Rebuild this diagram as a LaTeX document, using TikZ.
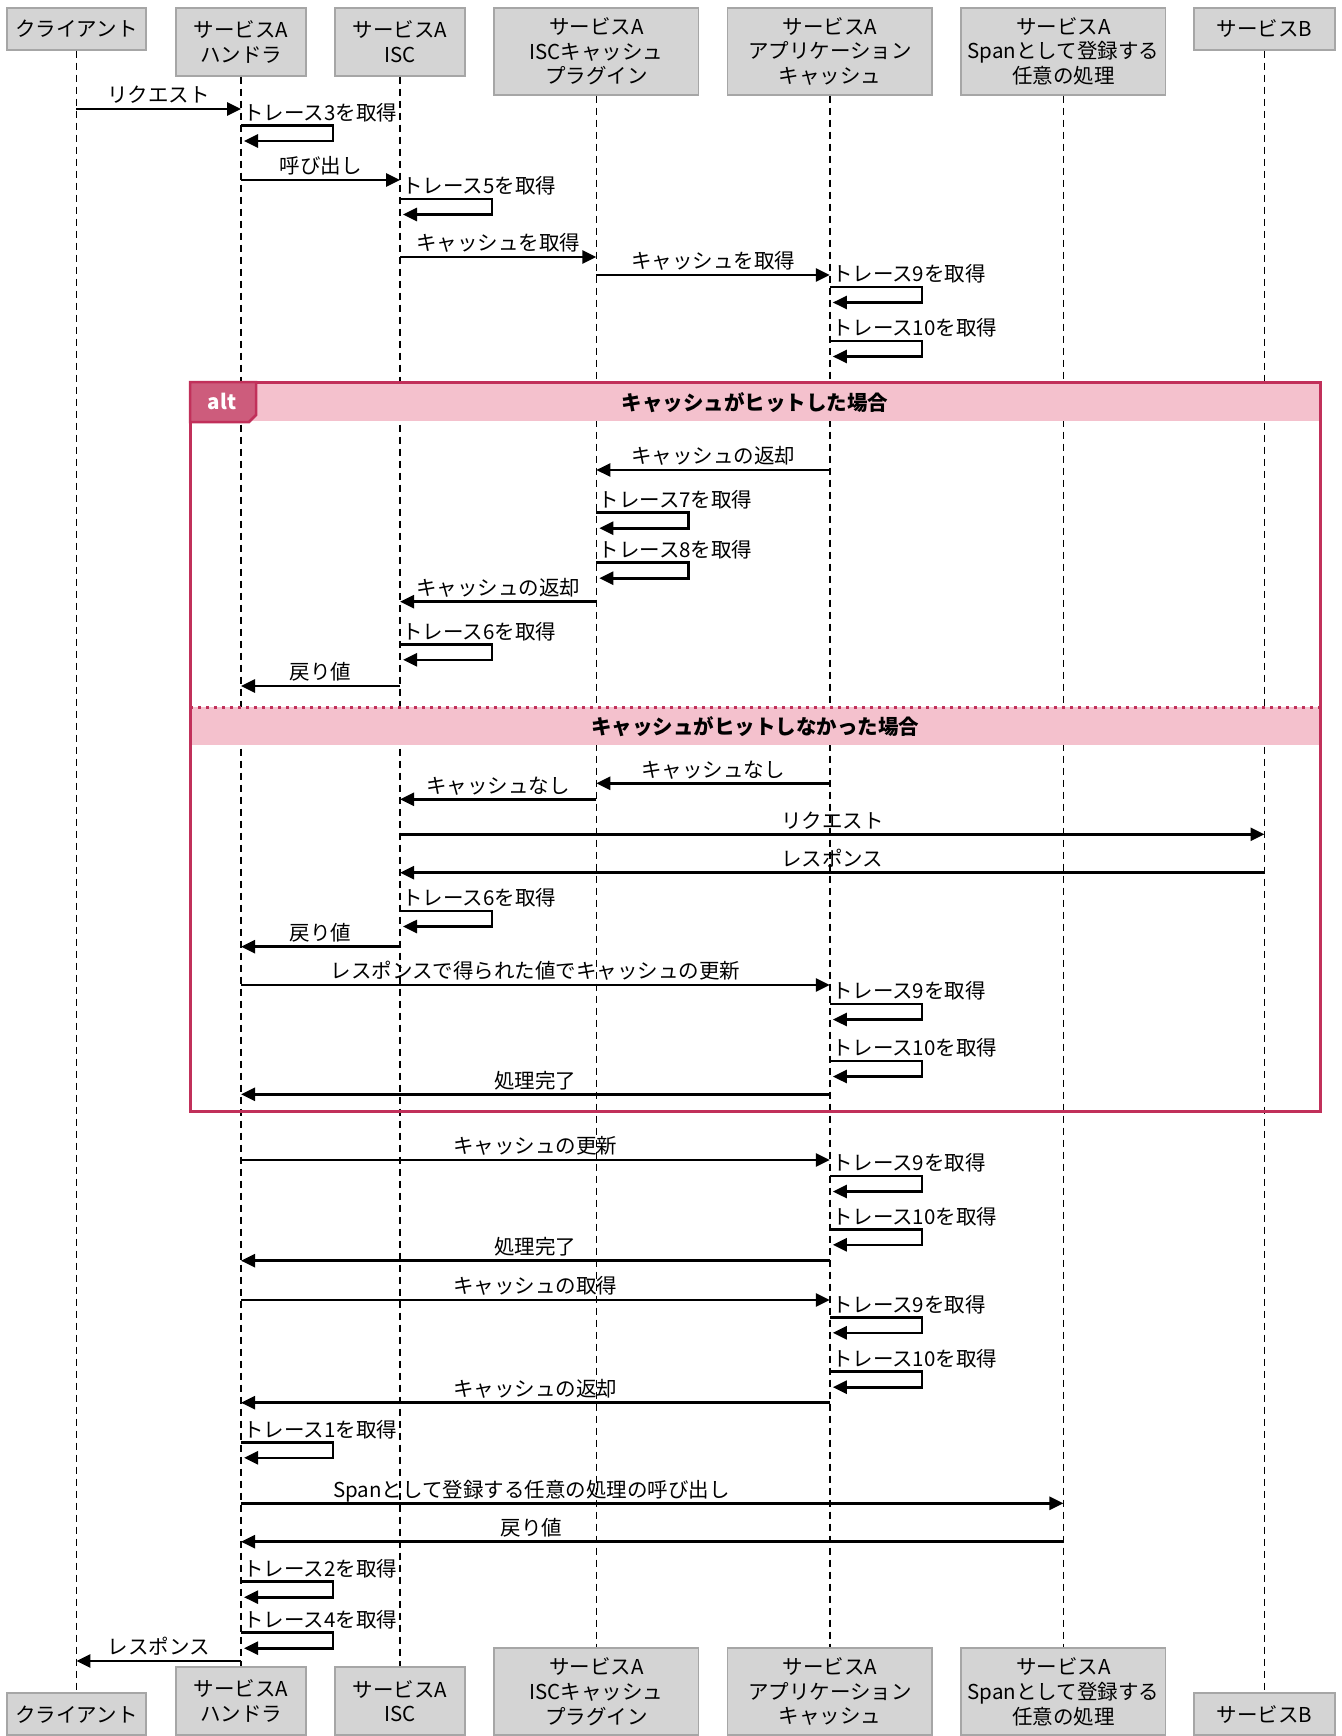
\documentclass[tikz,border=0pt]{standalone}
\usepackage{fontspec}
\setmainfont{Noto Sans CJK JP}
\usetikzlibrary{arrows.meta,positioning,calc}

\definecolor{boxfill}{HTML}{D4D4D4}
\definecolor{boxline}{HTML}{A6A6A6}
\definecolor{altline}{HTML}{C1305A}
\definecolor{alttab}{HTML}{CD5C7C}
\definecolor{altband}{HTML}{F4C1CD}

\newcommand{\lblfont}{\fontsize{20.5}{24.7}\selectfont}
\newcommand{\msg}[6][0.5]{\draw[arr] (#3 |- 0,#5) -- (#4 |- 0,#5) node[lbl,pos=#1,yshift=14pt] (#2) {#6};}
\newcommand{\selfmsg}[4]{\draw[arr] (#2 |- 0,#3) -- ++(92,0) -- ++(0,15.5) -- ++(-89,0);
  \node[lbl,anchor=west] (#1) at ($(#2 |- 0,#3)+(2,-13)$) {#4};}

\begin{document}
\begin{tikzpicture}[
  x=1pt,y=-1pt,
  part/.style={draw=boxline,fill=boxfill,line width=1.6pt,align=center,inner sep=0pt,font=\lblfont},
  life/.style={line width=1.5pt,dash pattern=on 7pt off 5pt},
  arr/.style={-{Triangle[length=14pt,width=13pt]},line width=2.6pt},
  lbl/.style={inner sep=0pt,text height=17.5pt,text depth=2pt,font=\lblfont},
  cond/.style={inner sep=0pt,text height=17.5pt,text depth=2pt,font=\lblfont\bfseries}
]
\useasboundingbox (0,0) rectangle (1341,1736);

\node[part,anchor=north,minimum width=139pt,minimum height=42pt] (cl) at (76.4,7) {クライアント};
\node[part,anchor=north,minimum width=130pt,minimum height=68pt] (ha) at (241,7) {サービスA\\ハンドラ};
\node[part,anchor=north,minimum width=130pt,minimum height=68pt] (isc) at (400,7) {サービスA\\ISC};
\node[part,anchor=north,minimum width=204.5pt,minimum height=87pt] (plg) at (596.3,7) {サービスA\\ISCキャッシュ\\プラグイン};
\node[part,anchor=north,minimum width=204.5pt,minimum height=87pt] (app) at (829.8,7) {サービスA\\アプリケーション\\キャッシュ};
\node[part,anchor=north,minimum width=204.5pt,minimum height=87pt] (spn) at (1063.4,7) {サービスA\\Spanとして登録する\\任意の処理};
\node[part,anchor=north,minimum width=141pt,minimum height=42pt] (svb) at (1264.5,7) {サービスB};

\node[part,anchor=south,minimum width=139pt,minimum height=42pt] (clB) at (cl |- 0,1736) {クライアント};
\node[part,anchor=south,minimum width=130pt,minimum height=68pt] (haB) at (ha |- 0,1736) {サービスA\\ハンドラ};
\node[part,anchor=south,minimum width=130pt,minimum height=68pt] (iscB) at (isc |- 0,1736) {サービスA\\ISC};
\node[part,anchor=south,minimum width=204.5pt,minimum height=87pt] (plgB) at (plg |- 0,1736) {サービスA\\ISCキャッシュ\\プラグイン};
\node[part,anchor=south,minimum width=204.5pt,minimum height=87pt] (appB) at (app |- 0,1736) {サービスA\\アプリケーション\\キャッシュ};
\node[part,anchor=south,minimum width=204.5pt,minimum height=87pt] (spnB) at (spn |- 0,1736) {サービスA\\Spanとして登録する\\任意の処理};
\node[part,anchor=south,minimum width=141pt,minimum height=42pt] (svbB) at (svb |- 0,1736) {サービスB};

\foreach \p in {cl,ha,isc,plg,app,spn,svb}
  \draw[life] (\p) -- (\p B);

\coordinate (altnw) at (190,382);
\coordinate (altse) at (1320,1111);
\fill[altband] (altnw) rectangle (1320,421);
\fill[altband] (190,707) rectangle (1320,745);
\draw[altline,line width=3pt,dash pattern=on 3pt off 5pt] (190,707) -- (1320,707);
\draw[altline,line width=3pt] (altnw) rectangle (altse);
\draw[altline,fill=alttab,line width=2.5pt] (190,382) -- (256,382) -- (256,415) -- (249,422) -- (190,422) -- cycle;
\node[cond,text=white] (alttag) at (222,402) {alt};
\node[cond] (hit) at (755,403) {キャッシュがヒットした場合};
\node[cond] (miss) at (755,727) {キャッシュがヒットしなかった場合};

\msg{m1}{cl}{ha}{109}{リクエスト}
\selfmsg{s1}{ha}{125.5}{トレース3を取得}
\msg{m2}{ha}{isc}{180}{呼び出し}
\selfmsg{s2}{isc}{199}{トレース5を取得}
\msg{m3}{isc}{plg}{257}{キャッシュを取得}
\msg{m4}{plg}{app}{275}{キャッシュを取得}
\selfmsg{s3}{app}{287}{トレース9を取得}
\selfmsg{s4}{app}{341}{トレース10を取得}

\msg{m5}{app}{plg}{470}{キャッシュの返却}
\selfmsg{s5}{plg}{512.7}{トレース7を取得}
\selfmsg{s6}{plg}{562.7}{トレース8を取得}
\msg{m6}{plg}{isc}{601.7}{キャッシュの返却}
\selfmsg{s7}{isc}{644.3}{トレース6を取得}
\msg{m7}{isc}{ha}{686}{戻り値}

\msg{m8}{app}{plg}{783.3}{キャッシュなし}
\msg{m9}{plg}{isc}{799.3}{キャッシュなし}
\msg{m10}{isc}{svb}{834.3}{リクエスト}
\msg{m11}{svb}{isc}{872.7}{レスポンス}
\selfmsg{s8}{isc}{911}{トレース6を取得}
\msg{m12}{isc}{ha}{946.7}{戻り値}
\msg{m13}{ha}{app}{985}{レスポンスで得られた値でキャッシュの更新}
\selfmsg{s9}{app}{1004}{トレース9を取得}
\selfmsg{s10}{app}{1061}{トレース10を取得}
\msg{m14}{app}{ha}{1094.3}{処理完了}

\msg{m15}{ha}{app}{1160}{キャッシュの更新}
\selfmsg{s11}{app}{1176}{トレース9を取得}
\selfmsg{s12}{app}{1229.3}{トレース10を取得}
\msg{m16}{app}{ha}{1260.7}{処理完了}
\msg{m17}{ha}{app}{1300}{キャッシュの取得}
\selfmsg{s13}{app}{1317.3}{トレース9を取得}
\selfmsg{s14}{app}{1371.7}{トレース10を取得}
\msg{m18}{app}{ha}{1402.7}{キャッシュの返却}
\selfmsg{s15}{ha}{1442.3}{トレース1を取得}
\msg[0.353]{m19}{ha}{spn}{1503.3}{Spanとして登録する任意の処理の呼び出し}
\msg[0.647]{m20}{spn}{ha}{1541.7}{戻り値}
\selfmsg{s16}{ha}{1581.7}{トレース2を取得}
\selfmsg{s17}{ha}{1632.7}{トレース4を取得}
\msg{m21}{ha}{cl}{1661}{レスポンス}
\end{tikzpicture}
\end{document}
